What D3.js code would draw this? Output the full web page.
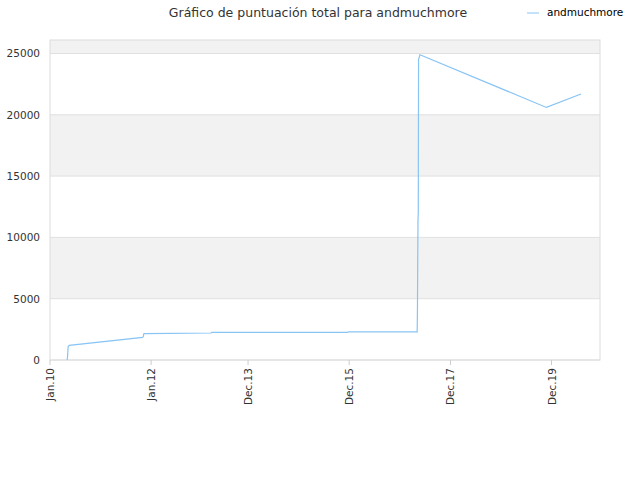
<!DOCTYPE html><html><head><meta charset="utf-8">
<script src="https://cdn.jsdelivr.net/npm/d3@7"></script>
<style>body{margin:0;background:#fff}text{font-family:"DejaVu Sans",sans-serif}</style></head><body>
<svg id="c" width="640" height="480"></svg>
<script>
const dates=["2010-05-05","2010-05-08","2010-05-12","2010-05-20","2011-11-01","2011-11-05","2011-11-10","2013-03-10","2013-03-15","2015-11-20","2015-11-25","2017-04-05","2017-04-07","2017-04-09","2017-04-11","2017-04-13","2017-04-15","2017-04-25","2019-10-25","2020-07-01"];
const scores=[0,300,1100,1200,1850,1900,2150,2200,2250,2250,2300,2300,4200,8000,11500,12000,24500,24900,20600,21700];
const tickDates=["2010-01-01","2012-01-01","2013-12-01","2015-12-01","2017-12-01","2019-12-01"];
const tickLabels=["Jan.10","Jan.12","Dec.13","Dec.15","Dec.17","Dec.19"];
const yTicks=[0,5000,10000,15000,20000,25000];
const p=d3.timeParse("%Y-%m-%d");
const svg=d3.select("#c");
const L=50,R=600,T=40,B=360;
const x=d3.scaleTime().domain([p("2010-01-01"),p("2020-11-15")]).range([L,R]);
const y=d3.scaleLinear().domain([0,26100]).range([B,T]);
[[5000,10000],[15000,20000],[25000,26100]].forEach(b=>svg.append("rect").attr("x",L).attr("width",R-L).attr("y",y(b[1])).attr("height",y(b[0])-y(b[1])).attr("fill","#f2f2f2"));
yTicks.forEach(v=>svg.append("line").attr("x1",L).attr("x2",R).attr("y1",y(v)).attr("y2",y(v)).attr("stroke","#e0e0e0"));
svg.append("rect").attr("x",L).attr("y",T).attr("width",R-L).attr("height",B-T).attr("fill","none").attr("stroke","#dcdcdc");
svg.selectAll(".yl").data(yTicks).enter().append("text").attr("x",L-10).attr("y",d=>y(d)+4).attr("text-anchor","end").attr("font-size",10.5).attr("fill","#333").text(d=>d);
tickDates.forEach((d,i)=>{const xx=x(p(d));
svg.append("line").attr("x1",xx).attr("x2",xx).attr("y1",B).attr("y2",B+5).attr("stroke","#ccc");
svg.append("text").attr("transform",`translate(${xx+4},${B+8}) rotate(-90)`).attr("text-anchor","end").attr("font-size",10.5).attr("fill","#333").text(tickLabels[i]);});
const line=d3.line().x((d,i)=>x(p(dates[i]))).y(d=>y(d));
svg.append("path").datum(scores).attr("d",line).attr("fill","none").attr("stroke","#88c4f4").attr("stroke-width",1.2);
svg.append("text").attr("x",318).attr("y",17).attr("text-anchor","middle").attr("font-size",12.5).attr("fill","#333").text("Gráfico de puntuación total para andmuchmore");
svg.append("line").attr("x1",527).attr("x2",539).attr("y1",13).attr("y2",13).attr("stroke","#88c4f4");
svg.append("text").attr("x",547).attr("y",16).attr("font-size",10.5).attr("fill","#000").text("andmuchmore");
</script></body></html>
